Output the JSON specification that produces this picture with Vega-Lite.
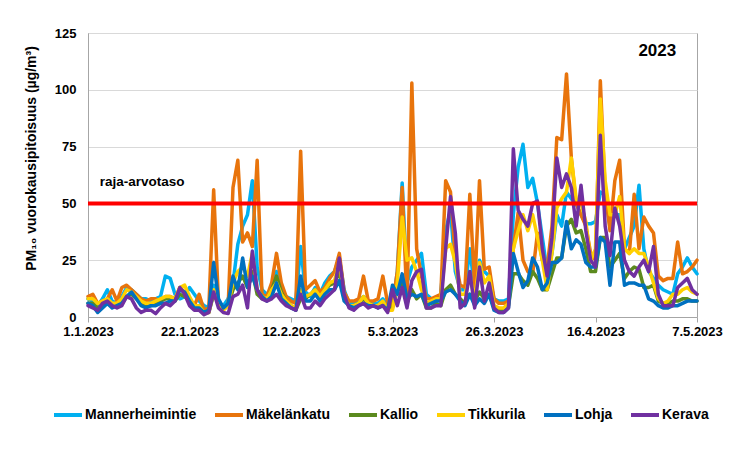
{
"$schema": "https://vega.github.io/schema/vega-lite/v6.json",
"width": 609, "height": 284,
"autosize": {"type": "none"},
"padding": {"left": 88, "top": 33, "right": 33, "bottom": 142},
"background": "white",
"view": {"stroke": "#A6A6A6", "strokeWidth": 1, "fill": "white"},
"config": {
  "font": "Liberation Sans",
  "view": {"stroke": "#A6A6A6", "strokeWidth": 1},
  "axis": {"labelFont": "Liberation Sans", "labelFontWeight": "bold", "labelColor": "#000000", "labelFontSize": 13, "titleFont": "Liberation Sans", "titleFontWeight": "bold", "titleColor": "#000000", "domainColor": "#A6A6A6", "tickColor": "#A6A6A6", "gridColor": "#D9D9D9"}
},
"layer": [
{
  "data": {"values": [
{"date":"2023-01-01","Mannerheimintie":8,"Mäkelänkatu":9,"Kallio":6,"Tikkurila":8,"Lohja":6,"Kerava":5},
{"date":"2023-01-02","Mannerheimintie":7,"Mäkelänkatu":10,"Kallio":6,"Tikkurila":8,"Lohja":5,"Kerava":4},
{"date":"2023-01-03","Mannerheimintie":5,"Mäkelänkatu":6,"Kallio":4,"Tikkurila":6,"Lohja":2,"Kerava":3},
{"date":"2023-01-04","Mannerheimintie":8,"Mäkelänkatu":7,"Kallio":5,"Tikkurila":7,"Lohja":4,"Kerava":6},
{"date":"2023-01-05","Mannerheimintie":12,"Mäkelänkatu":8,"Kallio":7,"Tikkurila":8,"Lohja":6,"Kerava":7},
{"date":"2023-01-06","Mannerheimintie":7,"Mäkelänkatu":12,"Kallio":5,"Tikkurila":6,"Lohja":4,"Kerava":5},
{"date":"2023-01-07","Mannerheimintie":6,"Mäkelänkatu":7,"Kallio":5,"Tikkurila":6,"Lohja":5,"Kerava":4},
{"date":"2023-01-08","Mannerheimintie":9,"Mäkelänkatu":13,"Kallio":6,"Tikkurila":8,"Lohja":6,"Kerava":5},
{"date":"2023-01-09","Mannerheimintie":13,"Mäkelänkatu":14,"Kallio":9,"Tikkurila":12,"Lohja":9,"Kerava":9},
{"date":"2023-01-10","Mannerheimintie":12,"Mäkelänkatu":12,"Kallio":10,"Tikkurila":11,"Lohja":11,"Kerava":8},
{"date":"2023-01-11","Mannerheimintie":10,"Mäkelänkatu":10,"Kallio":8,"Tikkurila":9,"Lohja":8,"Kerava":4},
{"date":"2023-01-12","Mannerheimintie":8,"Mäkelänkatu":8,"Kallio":6,"Tikkurila":7,"Lohja":5,"Kerava":2},
{"date":"2023-01-13","Mannerheimintie":8,"Mäkelänkatu":7,"Kallio":5,"Tikkurila":6,"Lohja":4,"Kerava":3},
{"date":"2023-01-14","Mannerheimintie":7,"Mäkelänkatu":8,"Kallio":5,"Tikkurila":6,"Lohja":5,"Kerava":3},
{"date":"2023-01-15","Mannerheimintie":8,"Mäkelänkatu":8,"Kallio":6,"Tikkurila":7,"Lohja":5,"Kerava":1.5},
{"date":"2023-01-16","Mannerheimintie":9,"Mäkelänkatu":7,"Kallio":7,"Tikkurila":8,"Lohja":6,"Kerava":4},
{"date":"2023-01-17","Mannerheimintie":18,"Mäkelänkatu":9,"Kallio":8,"Tikkurila":9,"Lohja":6,"Kerava":6},
{"date":"2023-01-18","Mannerheimintie":17,"Mäkelänkatu":9,"Kallio":8,"Tikkurila":9,"Lohja":7,"Kerava":5},
{"date":"2023-01-19","Mannerheimintie":10,"Mäkelänkatu":8,"Kallio":7,"Tikkurila":8,"Lohja":7,"Kerava":7},
{"date":"2023-01-20","Mannerheimintie":8,"Mäkelänkatu":13,"Kallio":10,"Tikkurila":13,"Lohja":12,"Kerava":13},
{"date":"2023-01-21","Mannerheimintie":9,"Mäkelänkatu":11,"Kallio":9,"Tikkurila":14,"Lohja":11,"Kerava":10},
{"date":"2023-01-22","Mannerheimintie":13,"Mäkelänkatu":8,"Kallio":7,"Tikkurila":9,"Lohja":7,"Kerava":5},
{"date":"2023-01-23","Mannerheimintie":10,"Mäkelänkatu":5,"Kallio":4,"Tikkurila":5,"Lohja":4,"Kerava":3},
{"date":"2023-01-24","Mannerheimintie":7,"Mäkelänkatu":10,"Kallio":5,"Tikkurila":5,"Lohja":4,"Kerava":3},
{"date":"2023-01-25","Mannerheimintie":5,"Mäkelänkatu":3,"Kallio":2,"Tikkurila":2,"Lohja":2,"Kerava":1},
{"date":"2023-01-26","Mannerheimintie":4,"Mäkelänkatu":4,"Kallio":2,"Tikkurila":2,"Lohja":3,"Kerava":2},
{"date":"2023-01-27","Mannerheimintie":14,"Mäkelänkatu":56,"Kallio":10,"Tikkurila":12,"Lohja":24,"Kerava":11},
{"date":"2023-01-28","Mannerheimintie":6,"Mäkelänkatu":6,"Kallio":6,"Tikkurila":5,"Lohja":8,"Kerava":4},
{"date":"2023-01-29","Mannerheimintie":5,"Mäkelänkatu":4,"Kallio":4,"Tikkurila":3,"Lohja":4,"Kerava":2},
{"date":"2023-01-30","Mannerheimintie":8,"Mäkelänkatu":5,"Kallio":5,"Tikkurila":5,"Lohja":6,"Kerava":1.5},
{"date":"2023-01-31","Mannerheimintie":15,"Mäkelänkatu":57,"Kallio":12,"Tikkurila":15,"Lohja":18,"Kerava":9},
{"date":"2023-02-01","Mannerheimintie":32,"Mäkelänkatu":69,"Kallio":15,"Tikkurila":20,"Lohja":12,"Kerava":10},
{"date":"2023-02-02","Mannerheimintie":40,"Mäkelänkatu":33,"Kallio":18,"Tikkurila":22,"Lohja":26,"Kerava":14},
{"date":"2023-02-03","Mannerheimintie":45,"Mäkelänkatu":37,"Kallio":13,"Tikkurila":18,"Lohja":13,"Kerava":4},
{"date":"2023-02-04","Mannerheimintie":60,"Mäkelänkatu":31,"Kallio":20,"Tikkurila":28,"Lohja":18,"Kerava":29},
{"date":"2023-02-05","Mannerheimintie":22,"Mäkelänkatu":69,"Kallio":10,"Tikkurila":12,"Lohja":12,"Kerava":12},
{"date":"2023-02-06","Mannerheimintie":12,"Mäkelänkatu":10,"Kallio":8,"Tikkurila":9,"Lohja":9,"Kerava":8},
{"date":"2023-02-07","Mannerheimintie":10,"Mäkelänkatu":9,"Kallio":8,"Tikkurila":8,"Lohja":7,"Kerava":7},
{"date":"2023-02-08","Mannerheimintie":12,"Mäkelänkatu":15,"Kallio":12,"Tikkurila":12,"Lohja":9,"Kerava":8},
{"date":"2023-02-09","Mannerheimintie":20,"Mäkelänkatu":28,"Kallio":18,"Tikkurila":15,"Lohja":15,"Kerava":10},
{"date":"2023-02-10","Mannerheimintie":11,"Mäkelänkatu":15,"Kallio":11,"Tikkurila":10,"Lohja":8,"Kerava":7},
{"date":"2023-02-11","Mannerheimintie":9,"Mäkelänkatu":9,"Kallio":7,"Tikkurila":7,"Lohja":6,"Kerava":5},
{"date":"2023-02-12","Mannerheimintie":8,"Mäkelänkatu":7,"Kallio":5,"Tikkurila":5,"Lohja":4,"Kerava":4},
{"date":"2023-02-13","Mannerheimintie":7,"Mäkelänkatu":6,"Kallio":3,"Tikkurila":4,"Lohja":3,"Kerava":3},
{"date":"2023-02-14","Mannerheimintie":31,"Mäkelänkatu":73,"Kallio":8,"Tikkurila":12,"Lohja":18,"Kerava":10},
{"date":"2023-02-15","Mannerheimintie":11,"Mäkelänkatu":12,"Kallio":8,"Tikkurila":9,"Lohja":7,"Kerava":4},
{"date":"2023-02-16","Mannerheimintie":9,"Mäkelänkatu":14,"Kallio":10,"Tikkurila":10,"Lohja":7,"Kerava":4},
{"date":"2023-02-17","Mannerheimintie":13,"Mäkelänkatu":16,"Kallio":12,"Tikkurila":12,"Lohja":10,"Kerava":7},
{"date":"2023-02-18","Mannerheimintie":10,"Mäkelänkatu":11,"Kallio":8,"Tikkurila":9,"Lohja":7,"Kerava":5},
{"date":"2023-02-19","Mannerheimintie":15,"Mäkelänkatu":13,"Kallio":12,"Tikkurila":12,"Lohja":10,"Kerava":8},
{"date":"2023-02-20","Mannerheimintie":18,"Mäkelänkatu":17,"Kallio":14,"Tikkurila":15,"Lohja":12,"Kerava":10},
{"date":"2023-02-21","Mannerheimintie":20,"Mäkelänkatu":20,"Kallio":15,"Tikkurila":16,"Lohja":12,"Kerava":12},
{"date":"2023-02-22","Mannerheimintie":26,"Mäkelänkatu":28,"Kallio":20,"Tikkurila":24,"Lohja":16,"Kerava":26},
{"date":"2023-02-23","Mannerheimintie":12,"Mäkelänkatu":11,"Kallio":8,"Tikkurila":9,"Lohja":7,"Kerava":10},
{"date":"2023-02-24","Mannerheimintie":6,"Mäkelänkatu":7,"Kallio":5,"Tikkurila":5,"Lohja":5,"Kerava":4},
{"date":"2023-02-25","Mannerheimintie":6,"Mäkelänkatu":7,"Kallio":5,"Tikkurila":5,"Lohja":4,"Kerava":3},
{"date":"2023-02-26","Mannerheimintie":7,"Mäkelänkatu":8,"Kallio":6,"Tikkurila":6,"Lohja":5,"Kerava":5},
{"date":"2023-02-27","Mannerheimintie":9,"Mäkelänkatu":18,"Kallio":8,"Tikkurila":9,"Lohja":6,"Kerava":6},
{"date":"2023-02-28","Mannerheimintie":7,"Mäkelänkatu":7,"Kallio":6,"Tikkurila":6,"Lohja":5,"Kerava":4},
{"date":"2023-03-01","Mannerheimintie":6,"Mäkelänkatu":7,"Kallio":5,"Tikkurila":5,"Lohja":5,"Kerava":5},
{"date":"2023-03-02","Mannerheimintie":6,"Mäkelänkatu":8,"Kallio":5,"Tikkurila":5,"Lohja":4,"Kerava":4},
{"date":"2023-03-03","Mannerheimintie":8,"Mäkelänkatu":18,"Kallio":6,"Tikkurila":7,"Lohja":5,"Kerava":5},
{"date":"2023-03-04","Mannerheimintie":5,"Mäkelänkatu":6,"Kallio":4,"Tikkurila":3,"Lohja":3,"Kerava":2},
{"date":"2023-03-05","Mannerheimintie":5,"Mäkelänkatu":5,"Kallio":4,"Tikkurila":3,"Lohja":14,"Kerava":12},
{"date":"2023-03-06","Mannerheimintie":20,"Mäkelänkatu":20,"Kallio":12,"Tikkurila":15,"Lohja":10,"Kerava":5},
{"date":"2023-03-07","Mannerheimintie":59,"Mäkelänkatu":57,"Kallio":15,"Tikkurila":44,"Lohja":19,"Kerava":13},
{"date":"2023-03-08","Mannerheimintie":15,"Mäkelänkatu":6,"Kallio":6,"Tikkurila":25,"Lohja":8,"Kerava":4},
{"date":"2023-03-09","Mannerheimintie":22,"Mäkelänkatu":103,"Kallio":12,"Tikkurila":26,"Lohja":10,"Kerava":16},
{"date":"2023-03-10","Mannerheimintie":25,"Mäkelänkatu":30,"Kallio":8,"Tikkurila":20,"Lohja":9,"Kerava":20},
{"date":"2023-03-11","Mannerheimintie":28,"Mäkelänkatu":18,"Kallio":10,"Tikkurila":12,"Lohja":10,"Kerava":21},
{"date":"2023-03-12","Mannerheimintie":10,"Mäkelänkatu":8,"Kallio":4,"Tikkurila":6,"Lohja":5,"Kerava":4},
{"date":"2023-03-13","Mannerheimintie":8,"Mäkelänkatu":8,"Kallio":4,"Tikkurila":7,"Lohja":6,"Kerava":4},
{"date":"2023-03-14","Mannerheimintie":7,"Mäkelänkatu":9,"Kallio":6,"Tikkurila":8,"Lohja":7,"Kerava":5},
{"date":"2023-03-15","Mannerheimintie":10,"Mäkelänkatu":10,"Kallio":5,"Tikkurila":8,"Lohja":7,"Kerava":5},
{"date":"2023-03-16","Mannerheimintie":38,"Mäkelänkatu":60,"Kallio":12,"Tikkurila":30,"Lohja":11,"Kerava":30},
{"date":"2023-03-17","Mannerheimintie":47,"Mäkelänkatu":55,"Kallio":14,"Tikkurila":32,"Lohja":12,"Kerava":53},
{"date":"2023-03-18","Mannerheimintie":20,"Mäkelänkatu":26,"Kallio":10,"Tikkurila":24,"Lohja":10,"Kerava":37},
{"date":"2023-03-19","Mannerheimintie":12,"Mäkelänkatu":14,"Kallio":8,"Tikkurila":10,"Lohja":7,"Kerava":4},
{"date":"2023-03-20","Mannerheimintie":12,"Mäkelänkatu":13,"Kallio":6,"Tikkurila":10,"Lohja":5,"Kerava":6},
{"date":"2023-03-21","Mannerheimintie":30,"Mäkelänkatu":54,"Kallio":10,"Tikkurila":18,"Lohja":10,"Kerava":20},
{"date":"2023-03-22","Mannerheimintie":12,"Mäkelänkatu":13,"Kallio":7,"Tikkurila":8,"Lohja":5,"Kerava":4},
{"date":"2023-03-23","Mannerheimintie":25,"Mäkelänkatu":60,"Kallio":11,"Tikkurila":24,"Lohja":8,"Kerava":22},
{"date":"2023-03-24","Mannerheimintie":20,"Mäkelänkatu":21,"Kallio":8,"Tikkurila":15,"Lohja":6,"Kerava":7},
{"date":"2023-03-25","Mannerheimintie":18,"Mäkelänkatu":22,"Kallio":10,"Tikkurila":18,"Lohja":10,"Kerava":15},
{"date":"2023-03-26","Mannerheimintie":8,"Mäkelänkatu":8,"Kallio":4,"Tikkurila":5,"Lohja":3,"Kerava":4},
{"date":"2023-03-27","Mannerheimintie":7,"Mäkelänkatu":6,"Kallio":3,"Tikkurila":4,"Lohja":2,"Kerava":2},
{"date":"2023-03-28","Mannerheimintie":7,"Mäkelänkatu":6,"Kallio":3,"Tikkurila":4,"Lohja":2,"Kerava":2},
{"date":"2023-03-29","Mannerheimintie":8,"Mäkelänkatu":7,"Kallio":5,"Tikkurila":6,"Lohja":4,"Kerava":4},
{"date":"2023-03-30","Mannerheimintie":45,"Mäkelänkatu":30,"Kallio":19,"Tikkurila":30,"Lohja":28,"Kerava":74},
{"date":"2023-03-31","Mannerheimintie":66,"Mäkelänkatu":46,"Kallio":19,"Tikkurila":38,"Lohja":20,"Kerava":47},
{"date":"2023-04-01","Mannerheimintie":76,"Mäkelänkatu":25,"Kallio":16,"Tikkurila":45,"Lohja":13,"Kerava":43},
{"date":"2023-04-02","Mannerheimintie":57,"Mäkelänkatu":20,"Kallio":14,"Tikkurila":38,"Lohja":16,"Kerava":40},
{"date":"2023-04-03","Mannerheimintie":61,"Mäkelänkatu":19,"Kallio":20,"Tikkurila":45,"Lohja":26,"Kerava":50},
{"date":"2023-04-04","Mannerheimintie":50,"Mäkelänkatu":37,"Kallio":17,"Tikkurila":35,"Lohja":22,"Kerava":51},
{"date":"2023-04-05","Mannerheimintie":35,"Mäkelänkatu":25,"Kallio":12,"Tikkurila":25,"Lohja":12,"Kerava":30},
{"date":"2023-04-06","Mannerheimintie":20,"Mäkelänkatu":22,"Kallio":12,"Tikkurila":12,"Lohja":15,"Kerava":18},
{"date":"2023-04-07","Mannerheimintie":28,"Mäkelänkatu":40,"Kallio":19,"Tikkurila":28,"Lohja":24,"Kerava":35},
{"date":"2023-04-08","Mannerheimintie":45,"Mäkelänkatu":79,"Kallio":26,"Tikkurila":48,"Lohja":24,"Kerava":70},
{"date":"2023-04-09","Mannerheimintie":40,"Mäkelänkatu":78,"Kallio":26,"Tikkurila":52,"Lohja":26,"Kerava":57},
{"date":"2023-04-10","Mannerheimintie":55,"Mäkelänkatu":107,"Kallio":40,"Tikkurila":55,"Lohja":42,"Kerava":63},
{"date":"2023-04-11","Mannerheimintie":52,"Mäkelänkatu":70,"Kallio":43,"Tikkurila":70,"Lohja":30,"Kerava":57},
{"date":"2023-04-12","Mannerheimintie":50,"Mäkelänkatu":50,"Kallio":37,"Tikkurila":52,"Lohja":34,"Kerava":40},
{"date":"2023-04-13","Mannerheimintie":45,"Mäkelänkatu":45,"Kallio":38,"Tikkurila":50,"Lohja":32,"Kerava":58},
{"date":"2023-04-14","Mannerheimintie":41,"Mäkelänkatu":40,"Kallio":30,"Tikkurila":42,"Lohja":24,"Kerava":38},
{"date":"2023-04-15","Mannerheimintie":41,"Mäkelänkatu":28,"Kallio":20,"Tikkurila":25,"Lohja":22,"Kerava":25},
{"date":"2023-04-16","Mannerheimintie":42,"Mäkelänkatu":25,"Kallio":20,"Tikkurila":30,"Lohja":22,"Kerava":22},
{"date":"2023-04-17","Mannerheimintie":55,"Mäkelänkatu":104,"Kallio":35,"Tikkurila":96,"Lohja":35,"Kerava":80},
{"date":"2023-04-18","Mannerheimintie":54,"Mäkelänkatu":55,"Kallio":35,"Tikkurila":60,"Lohja":33,"Kerava":40},
{"date":"2023-04-19","Mannerheimintie":40,"Mäkelänkatu":38,"Kallio":22,"Tikkurila":45,"Lohja":14,"Kerava":27},
{"date":"2023-04-20","Mannerheimintie":45,"Mäkelänkatu":60,"Kallio":25,"Tikkurila":45,"Lohja":33,"Kerava":48},
{"date":"2023-04-21","Mannerheimintie":45,"Mäkelänkatu":69,"Kallio":28,"Tikkurila":53,"Lohja":33,"Kerava":40},
{"date":"2023-04-22","Mannerheimintie":30,"Mäkelänkatu":30,"Kallio":17,"Tikkurila":30,"Lohja":14,"Kerava":25},
{"date":"2023-04-23","Mannerheimintie":35,"Mäkelänkatu":28,"Kallio":20,"Tikkurila":28,"Lohja":15,"Kerava":20},
{"date":"2023-04-24","Mannerheimintie":40,"Mäkelänkatu":54,"Kallio":22,"Tikkurila":30,"Lohja":15,"Kerava":18},
{"date":"2023-04-25","Mannerheimintie":58,"Mäkelänkatu":30,"Kallio":21,"Tikkurila":28,"Lohja":14,"Kerava":22},
{"date":"2023-04-26","Mannerheimintie":30,"Mäkelänkatu":44,"Kallio":13,"Tikkurila":28,"Lohja":14,"Kerava":25},
{"date":"2023-04-27","Mannerheimintie":20,"Mäkelänkatu":40,"Kallio":13,"Tikkurila":22,"Lohja":8,"Kerava":20},
{"date":"2023-04-28","Mannerheimintie":17,"Mäkelänkatu":37,"Kallio":14,"Tikkurila":15,"Lohja":7,"Kerava":31},
{"date":"2023-04-29","Mannerheimintie":14,"Mäkelänkatu":18,"Kallio":7,"Tikkurila":8,"Lohja":5,"Kerava":10},
{"date":"2023-04-30","Mannerheimintie":12,"Mäkelänkatu":16,"Kallio":6,"Tikkurila":6,"Lohja":4,"Kerava":5},
{"date":"2023-05-01","Mannerheimintie":11,"Mäkelänkatu":17,"Kallio":6,"Tikkurila":7,"Lohja":4,"Kerava":5},
{"date":"2023-05-02","Mannerheimintie":10,"Mäkelänkatu":17,"Kallio":7,"Tikkurila":10,"Lohja":5,"Kerava":5},
{"date":"2023-05-03","Mannerheimintie":19,"Mäkelänkatu":33,"Kallio":7,"Tikkurila":10,"Lohja":5,"Kerava":13},
{"date":"2023-05-04","Mannerheimintie":22,"Mäkelänkatu":19,"Kallio":8,"Tikkurila":12,"Lohja":6,"Kerava":15},
{"date":"2023-05-05","Mannerheimintie":26,"Mäkelänkatu":20,"Kallio":8,"Tikkurila":13,"Lohja":7,"Kerava":17},
{"date":"2023-05-06","Mannerheimintie":22,"Mäkelänkatu":22,"Kallio":7,"Tikkurila":11,"Lohja":7,"Kerava":12},
{"date":"2023-05-07","Mannerheimintie":19,"Mäkelänkatu":25,"Kallio":7,"Tikkurila":10,"Lohja":7,"Kerava":10}
  ]},
  "transform": [{"fold": ["Mannerheimintie", "Mäkelänkatu", "Kallio", "Tikkurila", "Lohja", "Kerava"], "as": ["asema", "pitoisuus"]}],
  "mark": {"type": "line", "strokeWidth": 3.5, "strokeJoin": "round", "strokeCap": "round"},
  "encoding": {
    "x": {"field": "date", "type": "temporal",
      "scale": {"type": "utc", "nice": false, "domain": [{"year": 2023, "month": 1, "date": 1, "utc": true}, {"year": 2023, "month": 5, "date": 7, "utc": true}]},
      "axis": {"title": null, "grid": false, "tickSize": 5, "labelPadding": 3, "domain": true, "labelFlush": false, "labelAlign": "center", "labelOverlap": false,
        "values": [{"year": 2023, "month": 1, "date": 1, "utc": true}, {"year": 2023, "month": 1, "date": 22, "utc": true}, {"year": 2023, "month": 2, "date": 12, "utc": true}, {"year": 2023, "month": 3, "date": 5, "utc": true}, {"year": 2023, "month": 3, "date": 26, "utc": true}, {"year": 2023, "month": 4, "date": 16, "utc": true}, {"year": 2023, "month": 5, "date": 7, "utc": true}],
        "labelExpr": "utcFormat(datum.value, '%-d.%-m.%Y')"}},
    "y": {"field": "pitoisuus", "type": "quantitative",
      "scale": {"domain": [0, 125], "nice": false},
      "axis": {"values": [0, 25, 50, 75, 100, 125], "title": "PM₁₀ vuorokausipitoisuus (µg/m³)", "titleFontSize": 14, "titleX": -57, "titleY": 125, "titleAlign": "center", "titleBaseline": "middle", "titleAngle": -90, "ticks": false, "tickSize": 0, "labelPadding": 12, "grid": true, "domain": true, "labelFlush": false}},
    "color": {"field": "asema", "type": "nominal",
      "scale": {"domain": ["Mannerheimintie", "Mäkelänkatu", "Kallio", "Tikkurila", "Lohja", "Kerava"], "range": ["#00B0F0", "#E8740C", "#5B8A1E", "#FFD000", "#0070C0", "#7030A0"]},
      "legend": {"orient": "none", "legendX": -36, "legendY": 366, "direction": "horizontal", "title": null, "symbolType": "stroke", "symbolSize": 784, "symbolStrokeWidth": 4, "labelFontSize": 14, "labelFontWeight": "bold", "labelFont": "Liberation Sans", "labelColor": "#000000", "labelOffset": 1, "columnPadding": 10, "labelLimit": 300, "padding": 0}}
  }
},
{"data": {"values": [{}]}, "mark": {"type": "rule", "color": "#FF0000", "strokeWidth": 4}, "encoding": {"y": {"datum": 50}}},
{"data": {"values": [{}]}, "mark": {"type": "text", "text": "raja-arvotaso", "align": "left", "baseline": "middle", "fontSize": 13.5, "fontWeight": "bold", "font": "Liberation Sans", "color": "#000000"},
  "encoding": {"x": {"datum": {"year": 2023, "month": 1, "date": 3, "hours": 10, "utc": true}, "type": "temporal"}, "y": {"datum": 59.4}}},
{"data": {"values": [{}]}, "mark": {"type": "text", "text": "2023", "align": "center", "baseline": "middle", "fontSize": 17, "fontWeight": "bold", "font": "Liberation Sans", "color": "#000000"},
  "encoding": {"x": {"datum": {"year": 2023, "month": 4, "date": 28, "hours": 19, "utc": true}, "type": "temporal"}, "y": {"datum": 117}}}
]
}
